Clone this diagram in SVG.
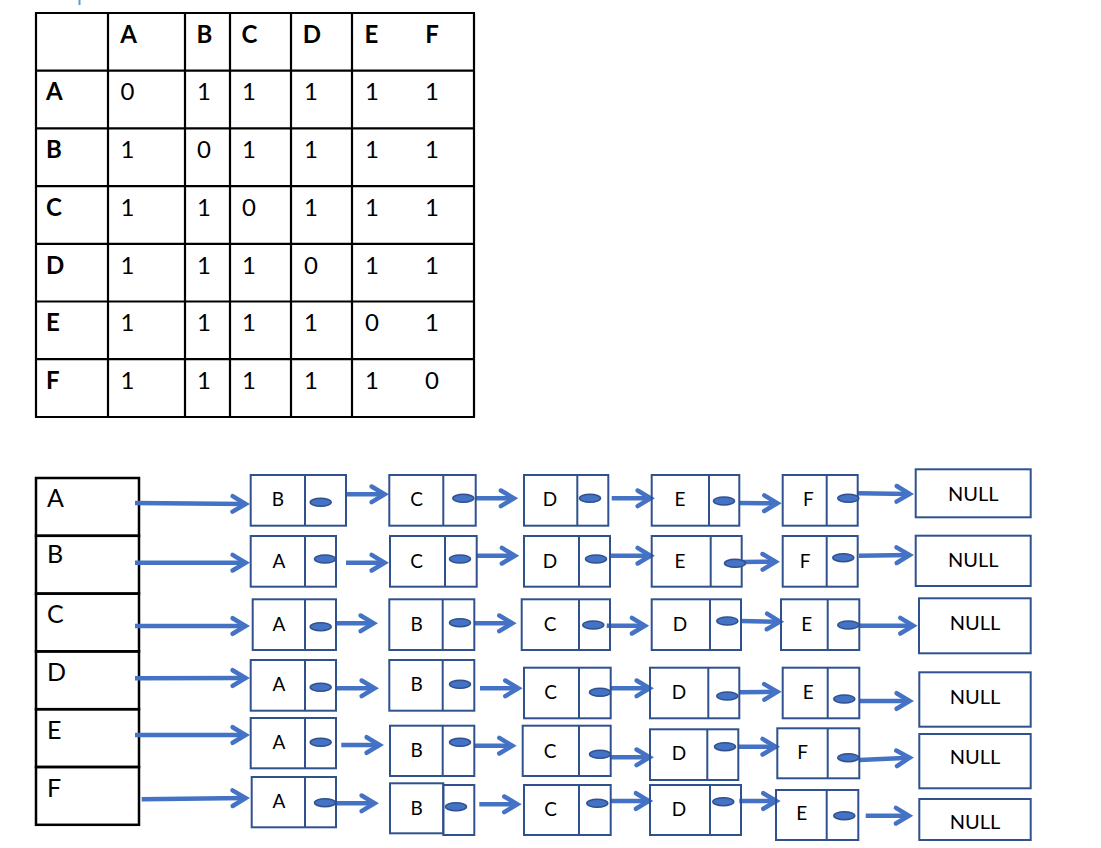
<svg xmlns="http://www.w3.org/2000/svg" width="1101" height="848" viewBox="0 0 1101 848">
<style>
.tl{stroke:#000;stroke-width:2.2;fill:none}
.th{font-family:Lato,"Open Sans",sans-serif;font-size:24px;font-weight:bold;fill:#000}
.td{font-family:Lato,"Open Sans",sans-serif;font-size:24px;fill:#000;text-anchor:middle}
.lb{stroke:#000;stroke-width:2.5;fill:none}
.ll{font-family:Lato,"Open Sans",sans-serif;font-size:25px;fill:#000}
.nd rect,.nd line{stroke:#2F528F;stroke-width:2;fill:none}
.nd text{font-family:Lato,"Open Sans",sans-serif;font-size:19px;fill:#000;text-anchor:middle}
.nd ellipse{fill:#4472C4;stroke:#2F528F;stroke-width:1.5}
.nl rect{stroke:#2F528F;stroke-width:2;fill:none}
.nl text{font-family:Lato,"Open Sans",sans-serif;font-size:20px;fill:#000;text-anchor:middle}
.cn line{stroke:#4472C4;stroke-width:4.5;marker-end:url(#chev)}
</style>
<defs>
<marker id="chev" markerUnits="userSpaceOnUse" viewBox="-20 -14 30 28" refX="0" refY="0" markerWidth="30" markerHeight="28" orient="auto">
<path d="M-13,-7.8 L0,0 L-13,7.8" fill="none" stroke="#4472C4" stroke-width="4.5" stroke-linejoin="miter" stroke-linecap="round"/>
</marker>
</defs>
<rect x="78.5" y="0" width="2" height="5" fill="#5B9BD5"/>
<g id="matrix">
<g class="tl">
<line x1="36" y1="13" x2="36" y2="417"/><line x1="108" y1="13" x2="108" y2="417"/><line x1="185" y1="13" x2="185" y2="417"/><line x1="230" y1="13" x2="230" y2="417"/><line x1="291" y1="13" x2="291" y2="417"/><line x1="352" y1="13" x2="352" y2="417"/><line x1="474" y1="13" x2="474" y2="417"/>
<line x1="35" y1="13" x2="475" y2="13"/><line x1="35" y1="70.7" x2="475" y2="70.7"/><line x1="35" y1="128.4" x2="475" y2="128.4"/><line x1="35" y1="186.1" x2="475" y2="186.1"/><line x1="35" y1="243.8" x2="475" y2="243.8"/><line x1="35" y1="301.5" x2="475" y2="301.5"/><line x1="35" y1="359.2" x2="475" y2="359.2"/><line x1="35" y1="417" x2="475" y2="417"/>
</g>
<g class="th" text-anchor="middle">
<text x="128.5" y="42.7">A</text><text x="204.5" y="42.7">B</text><text x="249.5" y="42.7">C</text><text x="312" y="42.7">D</text><text x="371.5" y="42.7">E</text><text x="432" y="42.7">F</text>
</g>
<g class="th">
<text x="46" y="100.4">A</text><text x="46" y="158.1">B</text><text x="46" y="215.8">C</text><text x="46" y="273.5">D</text><text x="46" y="331.2">E</text><text x="46" y="388.9">F</text>
</g>
<g class="td">
<text x="127.5" y="100.4">0</text><text x="204" y="100.4">1</text><text x="249" y="100.4">1</text><text x="311" y="100.4">1</text><text x="372" y="100.4">1</text><text x="432" y="100.4">1</text>
<text x="127.5" y="158.1">1</text><text x="204" y="158.1">0</text><text x="249" y="158.1">1</text><text x="311" y="158.1">1</text><text x="372" y="158.1">1</text><text x="432" y="158.1">1</text>
<text x="127.5" y="215.8">1</text><text x="204" y="215.8">1</text><text x="249" y="215.8">0</text><text x="311" y="215.8">1</text><text x="372" y="215.8">1</text><text x="432" y="215.8">1</text>
<text x="127.5" y="273.5">1</text><text x="204" y="273.5">1</text><text x="249" y="273.5">1</text><text x="311" y="273.5">0</text><text x="372" y="273.5">1</text><text x="432" y="273.5">1</text>
<text x="127.5" y="331.2">1</text><text x="204" y="331.2">1</text><text x="249" y="331.2">1</text><text x="311" y="331.2">1</text><text x="372" y="331.2">0</text><text x="432" y="331.2">1</text>
<text x="127.5" y="388.9">1</text><text x="204" y="388.9">1</text><text x="249" y="388.9">1</text><text x="311" y="388.9">1</text><text x="372" y="388.9">1</text><text x="432" y="388.9">0</text>
</g>
</g>
<g id="list">
<g id="list-A"><rect class="lb" x="36" y="478" width="103" height="57.8"/><text class="ll" x="47" y="507">A</text></g>
<g id="list-B"><rect class="lb" x="36" y="535.8" width="103" height="57.8"/><text class="ll" x="47" y="563">B</text></g>
<g id="list-C"><rect class="lb" x="36" y="593.6" width="103" height="57.8"/><text class="ll" x="47" y="623">C</text></g>
<g id="list-D"><rect class="lb" x="36" y="651.4" width="103" height="57.8"/><text class="ll" x="47" y="681">D</text></g>
<g id="list-E"><rect class="lb" x="36" y="709.2" width="103" height="57.8"/><text class="ll" x="47" y="739">E</text></g>
<g id="list-F"><rect class="lb" x="36" y="767" width="103" height="57.8"/><text class="ll" x="47" y="797">F</text></g>
</g>
<g id="connectors" class="cn">
<line x1="135" y1="503" x2="245.6" y2="504"/>
<line x1="135" y1="562.7" x2="245.6" y2="562.7"/>
<line x1="135" y1="626" x2="245.6" y2="626"/>
<line x1="135" y1="678.3" x2="245.6" y2="678"/>
<line x1="135" y1="735" x2="245.6" y2="735"/>
<line x1="141.7" y1="799.3" x2="245.6" y2="798"/>
<line x1="346" y1="494.3" x2="384.6" y2="494.3"/>
<line x1="475.7" y1="498.3" x2="513.9" y2="498.3"/>
<line x1="611.7" y1="498.3" x2="650.6" y2="498.3"/>
<line x1="739" y1="503" x2="777.3" y2="503.3"/>
<line x1="857.7" y1="493.3" x2="909.6" y2="494"/>
<line x1="346" y1="562.7" x2="384.6" y2="562.7"/>
<line x1="476.7" y1="555.7" x2="514.9" y2="555.7"/>
<line x1="610" y1="555.7" x2="650.6" y2="555.7"/>
<line x1="741" y1="562" x2="775.6" y2="561.7"/>
<line x1="859" y1="555.7" x2="909.6" y2="555"/>
<line x1="336" y1="623.3" x2="373.6" y2="623.3"/>
<line x1="474.3" y1="623.3" x2="512.3" y2="623.3"/>
<line x1="606.7" y1="625.7" x2="644.9" y2="625.7"/>
<line x1="741" y1="621" x2="779.9" y2="621.7"/>
<line x1="859.3" y1="625.7" x2="913.3" y2="625.7"/>
<line x1="336" y1="688.3" x2="374.6" y2="688.3"/>
<line x1="480" y1="688.3" x2="518.3" y2="688.3"/>
<line x1="610.7" y1="688.3" x2="649.6" y2="688.3"/>
<line x1="739.3" y1="692.3" x2="777.3" y2="691.7"/>
<line x1="859.3" y1="701" x2="909.6" y2="701"/>
<line x1="341.3" y1="745" x2="379.6" y2="745"/>
<line x1="474.3" y1="745.7" x2="512.3" y2="745.7"/>
<line x1="610.7" y1="757.3" x2="649.6" y2="757.3"/>
<line x1="738.3" y1="746.7" x2="775.6" y2="746.7"/>
<line x1="859.3" y1="760" x2="909.6" y2="757.7"/>
<line x1="336" y1="803.3" x2="374.6" y2="803.3"/>
<line x1="479.3" y1="804.3" x2="517.3" y2="804.3"/>
<line x1="610.7" y1="801" x2="648.9" y2="801"/>
<line x1="739.3" y1="801" x2="776.3" y2="801"/>
<line x1="865.7" y1="815.7" x2="908.9" y2="815.7"/>
</g>
<g id="rowA">
<g id="A1" class="nd"><rect x="250.7" y="475" width="95.3" height="50.7"/><line x1="305" y1="475" x2="305" y2="525.7"/><text x="278" y="505.7">B</text><ellipse cx="320.7" cy="502.3" rx="10.5" ry="4"/></g>
<g id="A2" class="nd"><rect x="389.3" y="475" width="86.4" height="50.7"/><line x1="443.3" y1="475" x2="443.3" y2="525.7"/><text x="416.7" y="505.7">C</text><ellipse cx="463.3" cy="498.3" rx="10.5" ry="4"/></g>
<g id="A3" class="nd"><rect x="524" y="475" width="84.3" height="50.7"/><line x1="577.3" y1="475" x2="577.3" y2="525.7"/><text x="550" y="505.7">D</text><ellipse cx="590" cy="498.3" rx="10.5" ry="4"/></g>
<g id="A4" class="nd"><rect x="651.7" y="475" width="87.6" height="50.7"/><line x1="709" y1="475" x2="709" y2="525.7"/><text x="680" y="505.7">E</text><ellipse cx="724" cy="501" rx="10.5" ry="4"/></g>
<g id="A5" class="nd"><rect x="782.7" y="475" width="75" height="50.7"/><line x1="826.7" y1="475" x2="826.7" y2="525.7"/><text x="808.3" y="505.7">F</text><ellipse cx="848.3" cy="498.3" rx="10.5" ry="4"/></g>
<g id="A-null" class="nl"><rect x="915.7" y="469.3" width="115" height="48"/><text x="973.3" y="500.7">NULL</text></g>
</g>
<g id="rowB">
<g id="B1" class="nd"><rect x="250.7" y="536" width="85.3" height="50.7"/><line x1="305" y1="536" x2="305" y2="586.7"/><text x="279" y="567.7">A</text><ellipse cx="325" cy="559" rx="10.5" ry="4"/></g>
<g id="B2" class="nd"><rect x="390" y="536" width="86.7" height="50.7"/><line x1="445" y1="536" x2="445" y2="586.7"/><text x="416.7" y="567.7">C</text><ellipse cx="460" cy="559" rx="10.5" ry="4"/></g>
<g id="B3" class="nd"><rect x="524" y="536" width="86" height="50.7"/><line x1="579" y1="536" x2="579" y2="586.7"/><text x="550" y="567.7">D</text><ellipse cx="596" cy="559" rx="10.5" ry="4"/></g>
<g id="B4" class="nd"><rect x="651.7" y="536" width="90" height="50.7"/><line x1="710.7" y1="536" x2="710.7" y2="586.7"/><text x="680" y="567.7">E</text><ellipse cx="735" cy="563.3" rx="10.5" ry="4"/></g>
<g id="B5" class="nd"><rect x="782.7" y="536" width="75" height="50.7"/><line x1="826.7" y1="536" x2="826.7" y2="586.7"/><text x="805" y="567.7">F</text><ellipse cx="843.3" cy="557.7" rx="10.5" ry="4"/></g>
<g id="B-null" class="nl"><rect x="915.7" y="535.7" width="115" height="50.3"/><text x="973.3" y="566.7">NULL</text></g>
</g>
<g id="rowC">
<g id="C1" class="nd"><rect x="252.7" y="599.3" width="83.3" height="50.7"/><line x1="305" y1="599.3" x2="305" y2="650"/><text x="279" y="630.7">A</text><ellipse cx="320.7" cy="626.7" rx="10.5" ry="4"/></g>
<g id="C2" class="nd"><rect x="389.3" y="599.3" width="85" height="50.7"/><line x1="442.7" y1="599.3" x2="442.7" y2="650"/><text x="416.7" y="630.7">B</text><ellipse cx="460" cy="622.7" rx="10.5" ry="4"/></g>
<g id="C3" class="nd"><rect x="521.7" y="599.3" width="88.3" height="50.7"/><line x1="579" y1="599.3" x2="579" y2="650"/><text x="550" y="630.7">C</text><ellipse cx="593.3" cy="625" rx="10.5" ry="4"/></g>
<g id="C4" class="nd"><rect x="651.7" y="599.3" width="89.3" height="50.7"/><line x1="710" y1="599.3" x2="710" y2="650"/><text x="680" y="630.7">D</text><ellipse cx="727.3" cy="621" rx="10.5" ry="4"/></g>
<g id="C5" class="nd"><rect x="781" y="599.3" width="78.3" height="50.7"/><line x1="827.7" y1="599.3" x2="827.7" y2="650"/><text x="806.7" y="630.7">E</text><ellipse cx="848.3" cy="625" rx="10.5" ry="4"/></g>
<g id="C-null" class="nl"><rect x="919" y="598.3" width="111.7" height="55"/><text x="975" y="630">NULL</text></g>
</g>
<g id="rowD">
<g id="D1" class="nd"><rect x="250.7" y="660" width="85.3" height="50.7"/><line x1="305" y1="660" x2="305" y2="710.7"/><text x="279" y="690.7">A</text><ellipse cx="320.7" cy="687.3" rx="10.5" ry="4"/></g>
<g id="D2" class="nd"><rect x="389.3" y="660" width="85" height="50.7"/><line x1="442.7" y1="660" x2="442.7" y2="710.7"/><text x="416.7" y="690.7">B</text><ellipse cx="460" cy="684.3" rx="10.5" ry="4"/></g>
<g id="D3" class="nd"><rect x="524" y="667.7" width="86.7" height="50.6"/><line x1="579" y1="667.7" x2="579" y2="718.3"/><text x="550.7" y="699">C</text><ellipse cx="600" cy="692.3" rx="10.5" ry="4"/></g>
<g id="D4" class="nd"><rect x="650" y="667.7" width="89.3" height="50.6"/><line x1="708.3" y1="667.7" x2="708.3" y2="718.3"/><text x="679" y="699">D</text><ellipse cx="727.3" cy="696" rx="10.5" ry="4"/></g>
<g id="D5" class="nd"><rect x="782.7" y="667.7" width="76.6" height="50.6"/><line x1="827.7" y1="667.7" x2="827.7" y2="718.3"/><text x="808.3" y="699.3">E</text><ellipse cx="844.3" cy="699" rx="10.5" ry="4"/></g>
<g id="D-null" class="nl"><rect x="919.3" y="672.3" width="111.4" height="54.4"/><text x="975" y="704">NULL</text></g>
</g>
<g id="rowE">
<g id="E1" class="nd"><rect x="250.7" y="718" width="85.3" height="50.3"/><line x1="305" y1="718" x2="305" y2="768.3"/><text x="279" y="749.3">A</text><ellipse cx="320.7" cy="742.3" rx="10.5" ry="4"/></g>
<g id="E2" class="nd"><rect x="390" y="725.7" width="84.3" height="50.3"/><line x1="442.7" y1="725.7" x2="442.7" y2="776"/><text x="416.7" y="756.7">B</text><ellipse cx="460" cy="742.3" rx="10.5" ry="4"/></g>
<g id="E3" class="nd"><rect x="522.7" y="725.7" width="88" height="50.3"/><line x1="579" y1="725.7" x2="579" y2="776"/><text x="550" y="758">C</text><ellipse cx="600" cy="754.3" rx="10.5" ry="4"/></g>
<g id="E4" class="nd"><rect x="650" y="729.3" width="88.3" height="50.7"/><line x1="707.3" y1="729.3" x2="707.3" y2="780"/><text x="679" y="760">D</text><ellipse cx="725" cy="746.7" rx="10.5" ry="4"/></g>
<g id="E5" class="nd"><rect x="777.3" y="728.3" width="82" height="50"/><line x1="827.7" y1="728.3" x2="827.7" y2="778.3"/><text x="802.7" y="759.3">F</text><ellipse cx="848.3" cy="757.7" rx="10.5" ry="4"/></g>
<g id="E-null" class="nl"><rect x="919.3" y="734" width="111.4" height="54.3"/><text x="975" y="764">NULL</text></g>
</g>
<g id="rowF">
<g id="F1" class="nd"><rect x="251.7" y="777" width="84.3" height="50.3"/><line x1="305" y1="777" x2="305" y2="827.3"/><text x="279" y="807.7">A</text><ellipse cx="325" cy="802.7" rx="10.5" ry="4"/></g>
<g id="F2" class="nd"><rect x="390" y="783.3" width="53.3" height="50"/><rect x="443.3" y="785" width="31" height="50"/><text x="416.7" y="815">B</text><ellipse cx="456" cy="806.7" rx="10.5" ry="4"/></g>
<g id="F3" class="nd"><rect x="524" y="785" width="86.7" height="50"/><line x1="579" y1="785" x2="579" y2="835"/><text x="550.7" y="815.7">C</text><ellipse cx="597.3" cy="803.3" rx="10.5" ry="4"/></g>
<g id="F4" class="nd"><rect x="650" y="785" width="91" height="50"/><line x1="710" y1="785" x2="710" y2="835"/><text x="679" y="815.7">D</text><ellipse cx="723.3" cy="801.7" rx="10.5" ry="4"/></g>
<g id="F5" class="nd"><rect x="776" y="790" width="82.3" height="50"/><line x1="826.7" y1="790" x2="826.7" y2="840"/><text x="801.7" y="820">E</text><ellipse cx="844.3" cy="815.7" rx="10.5" ry="4"/></g>
<g id="F-null" class="nl"><rect x="919.3" y="799" width="111.4" height="41"/><text x="975" y="829.3">NULL</text></g>
</g>
</svg>
